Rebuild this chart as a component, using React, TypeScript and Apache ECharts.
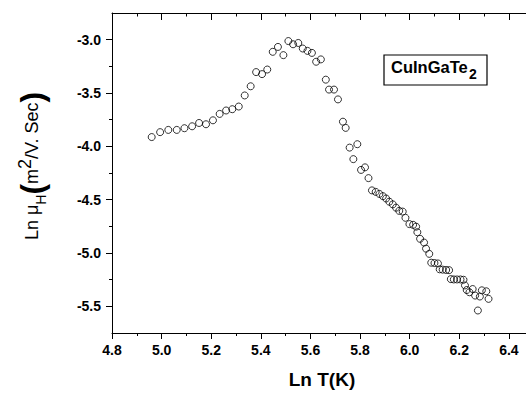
import React, { useEffect, useRef } from "react";
import * as echarts from "echarts";

const lnT: number[] = [
  4.96, 4.994, 5.027, 5.061, 5.092, 5.123, 5.151, 5.179, 5.207, 5.234,
  5.26, 5.285, 5.311, 5.335, 5.359, 5.381, 5.405, 5.426, 5.448, 5.469,
  5.491, 5.511, 5.53, 5.551, 5.569, 5.588, 5.606, 5.623, 5.642, 5.662,
  5.675, 5.695, 5.711, 5.731, 5.742, 5.758, 5.789, 5.773, 5.804, 5.82,
  5.834, 5.848, 5.863, 5.878, 5.892, 5.905, 5.918, 5.932, 5.945, 5.958,
  5.972, 5.983, 5.999, 6.014, 6.026, 6.031, 6.042, 6.058, 6.066, 6.079,
  6.087, 6.1, 6.114, 6.121, 6.133, 6.147, 6.159, 6.166, 6.178, 6.191,
  6.205, 6.217, 6.223, 6.23, 6.241, 6.254, 6.264, 6.275, 6.283, 6.291,
  6.309, 6.318,
];

const lnMu: number[] = [
  -3.913, -3.867, -3.846, -3.846, -3.83, -3.812, -3.781, -3.793, -3.756, -3.696,
  -3.664, -3.652, -3.627, -3.523, -3.437, -3.304, -3.323, -3.28, -3.114, -3.068,
  -3.145, -3.013, -3.043, -3.031, -3.083, -3.105, -3.124, -3.207, -3.185, -3.375,
  -3.468, -3.468, -3.56, -3.769, -3.827, -4.012, -3.98, -4.12, -4.221, -4.197,
  -4.298, -4.413, -4.427, -4.446, -4.467, -4.489, -4.519, -4.544, -4.575, -4.605,
  -4.612, -4.67, -4.729, -4.736, -4.753, -4.805, -4.867, -4.902, -4.959, -5.008,
  -5.091, -5.094, -5.098, -5.153, -5.156, -5.159, -5.161, -5.245, -5.248, -5.248,
  -5.248, -5.251, -5.304, -5.347, -5.368, -5.338, -5.399, -5.539, -5.408, -5.35,
  -5.359, -5.43,
];

const xMajorTicks: number[] = [4.8, 5.0, 5.2, 5.4, 5.6, 5.8, 6.0, 6.2, 6.4];
const xMinorTicks: number[] = [4.9, 5.1, 5.3, 5.5, 5.7, 5.9, 6.1, 6.3];
const yMajorTicks: number[] = [-5.5, -5.0, -4.5, -4.0, -3.5, -3.0];
const yMinorTicks: number[] = [-5.25, -4.75, -4.25, -3.75, -3.25];

const FONT = "'Liberation Sans', Arial, sans-serif";
const X_MIN = 4.8;
const X_MAX = 6.469;
const Y_MIN = -5.75;
const Y_MAX = -2.75;

export default function App() {
  const ref = useRef<HTMLDivElement>(null);

  useEffect(() => {
    document.body.style.margin = "0";
    if (!ref.current) return;
    const chart = echarts.init(ref.current, null, { renderer: "svg" });

    const axisLine = { show: true, lineStyle: { color: "#000", width: 1 } };
    const noSplit = { show: false };
    const tickLabel = {
      show: true,
      formatter: (v: number) => v.toFixed(1),
      color: "#000",
      fontFamily: FONT,
      fontWeight: "bold",
      fontSize: 14,
      margin: 10,
    };

    const option: any = {
      animation: false,
      backgroundColor: "#fff",
      grid: { left: 112, top: 13, right: 0, bottom: 57, containLabel: false },
      xAxis: [
        {
          type: "value",
          position: "bottom",
          min: X_MIN,
          max: X_MAX,
          axisLine,
          splitLine: noSplit,
          axisTick: { show: true, customValues: xMajorTicks, length: 6, inside: false, lineStyle: { color: "#000" } },
          axisLabel: { ...tickLabel, customValues: xMajorTicks },
          name: "Ln T(K)",
          nameLocation: "middle",
          nameGap: 37,
          nameTextStyle: { color: "#000", fontFamily: FONT, fontWeight: "bold", fontSize: 19, padding: [0, 0, 0, 6] },
        },
        {
          type: "value",
          position: "bottom",
          min: X_MIN,
          max: X_MAX,
          axisLine: { show: false },
          splitLine: noSplit,
          axisTick: { show: true, customValues: xMinorTicks, length: 3, inside: false, lineStyle: { color: "#000" } },
          axisLabel: { show: false },
        },
        {
          type: "value",
          position: "top",
          min: X_MIN,
          max: X_MAX,
          axisLine,
          splitLine: noSplit,
          axisTick: { show: true, customValues: xMajorTicks, length: 7, inside: true, lineStyle: { color: "#000" } },
          axisLabel: { show: false },
        },
        {
          type: "value",
          position: "top",
          min: X_MIN,
          max: X_MAX,
          axisLine: { show: false },
          splitLine: noSplit,
          axisTick: { show: true, customValues: xMinorTicks, length: 3.5, inside: true, lineStyle: { color: "#000" } },
          axisLabel: { show: false },
        },
      ],
      yAxis: [
        {
          type: "value",
          position: "left",
          min: Y_MIN,
          max: Y_MAX,
          axisLine,
          splitLine: noSplit,
          axisTick: { show: true, customValues: yMajorTicks, length: 6, inside: false, lineStyle: { color: "#000" } },
          axisLabel: { ...tickLabel, customValues: yMajorTicks, margin: 11 },
        },
        {
          type: "value",
          position: "left",
          min: Y_MIN,
          max: Y_MAX,
          axisLine: { show: false },
          splitLine: noSplit,
          axisTick: { show: true, customValues: yMinorTicks, length: 3, inside: false, lineStyle: { color: "#000" } },
          axisLabel: { show: false },
        },
      ],
      series: [
        {
          type: "scatter",
          xAxisIndex: 0,
          yAxisIndex: 0,
          symbol: "circle",
          symbolSize: 7,
          itemStyle: { color: "rgba(0,0,0,0)", borderColor: "#000", borderWidth: 1 },
          data: lnT.map((x, i) => [x, lnMu[i]]),
        },
      ],
      graphic: [
        {
          type: "text",
          x: 32,
          y: 166,
          rotation: Math.PI / 2,
          style: {
            text: "{a|Ln μ}{h|H}{p|(}{a|m}{s|2}{a|/V. Sec}{p|)}",
            align: "center",
            verticalAlign: "middle",
            fill: "#000",
            rich: {
              a: { fontFamily: FONT, fontSize: 18, fill: "#000", color: "#000" },
              h: { fontFamily: FONT, fontSize: 14, fill: "#000", color: "#000", verticalAlign: "bottom" },
              p: { fontFamily: FONT, fontSize: 32, fontWeight: "bold", fill: "#000", color: "#000" },
              s: { fontFamily: FONT, fontSize: 18, fill: "#000", color: "#000", verticalAlign: "top" },
            },
          },
        },
        {
          type: "rect",
          shape: { x: 384, y: 55, width: 103, height: 30 },
          style: { fill: "#fff", stroke: "#000", lineWidth: 1.2 },
        },
        {
          type: "text",
          x: 391,
          y: 67,
          style: {
            text: "CuInGaTe",
            fill: "#000",
            font: `bold 16.5px ${FONT}`,
            align: "left",
            verticalAlign: "middle",
          },
        },
        {
          type: "text",
          x: 469,
          y: 73.5,
          style: {
            text: "2",
            fill: "#000",
            font: `bold 14px ${FONT}`,
            align: "left",
            verticalAlign: "middle",
          },
        },
      ],
    };

    chart.setOption(option);
    return () => chart.dispose();
  }, []);

  return <div ref={ref} style={{ width: 526, height: 394 }} />;
}
